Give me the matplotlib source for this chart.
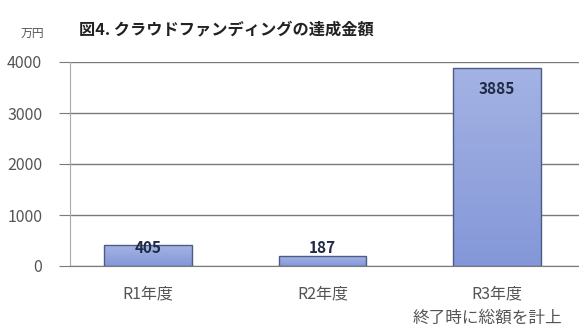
import matplotlib
matplotlib.use("Agg")
import numpy as np
import matplotlib.pyplot as plt
from matplotlib.colors import LinearSegmentedColormap

plt.rcParams['font.family'] = ['Noto Sans CJK JP', 'DejaVu Sans']

categories = ['R1年度', 'R2年度', 'R3年度']
values = [405, 187, 3885]
yticks = [0, 1000, 2000, 3000, 4000]

# label offsets in points (Excel placed them a bit unevenly)
label_offsets = [-2, 6, -15]

fig = plt.figure(figsize=(5.79, 3.29), dpi=100)
ax = fig.add_axes([70/579, 63/329, 509/579, 204/329])

x = np.arange(len(categories))
bars = ax.bar(x, values, width=0.5, color='none', edgecolor='#4d5c85', linewidth=1.0, zorder=3)

# vertical gradient fill like the office chart
grad_cmap = LinearSegmentedColormap.from_list('g', ['#8497d8', '#a4b3e4'])
grad = np.linspace(0, 1, 256).reshape(-1, 1)
for b in bars:
    bx, by = b.get_x(), b.get_y()
    w, h = b.get_width(), b.get_height()
    im = ax.imshow(grad, cmap=grad_cmap, aspect='auto', origin='lower',
                   extent=[bx, bx + w, by, by + h], zorder=2)
    im.set_clip_path(b)

for xi, v, off in zip(x, values, label_offsets):
    ax.annotate(str(v), (xi, v), xytext=(0, off), textcoords='offset points',
                ha='center', va='center', fontsize=11, fontweight='bold',
                color='#1f2a44', zorder=4)

ax.set_xlim(-0.447, 2.47)
ax.set_ylim(0, 4000)
ax.set_yticks(yticks)
ax.set_yticklabels([str(t) for t in yticks])
ax.set_xticks(x)
ax.set_xticklabels(categories)
ax.yaxis.grid(True, color='#7a7a7a', linewidth=1.0, zorder=0)
ax.tick_params(axis='y', length=8, color='#7a7a7a', labelsize=11.5, labelcolor='#555555', pad=12)
ax.tick_params(axis='x', length=0, labelsize=11.5, labelcolor='#555555', pad=14)
for s in ['top', 'right']:
    ax.spines[s].set_visible(False)
ax.spines['left'].set_color('#aaaaaa')
ax.spines['bottom'].set_color('#7a7a7a')

fig.text(226/579, 1 - 30/329, '図4. クラウドファンディングの達成金額', ha='center', va='center',
         fontsize=11.7, fontweight='bold', color='#222222')
fig.text(32/579, 1 - 33/329, '万円', ha='center', va='center', fontsize=8.5, color='#555555')
fig.text(487/579, 1 - 318/329, '終了時に総額を計上', ha='center', va='center', fontsize=12, color='#555555')

fig.savefig('out.png', dpi=100)
